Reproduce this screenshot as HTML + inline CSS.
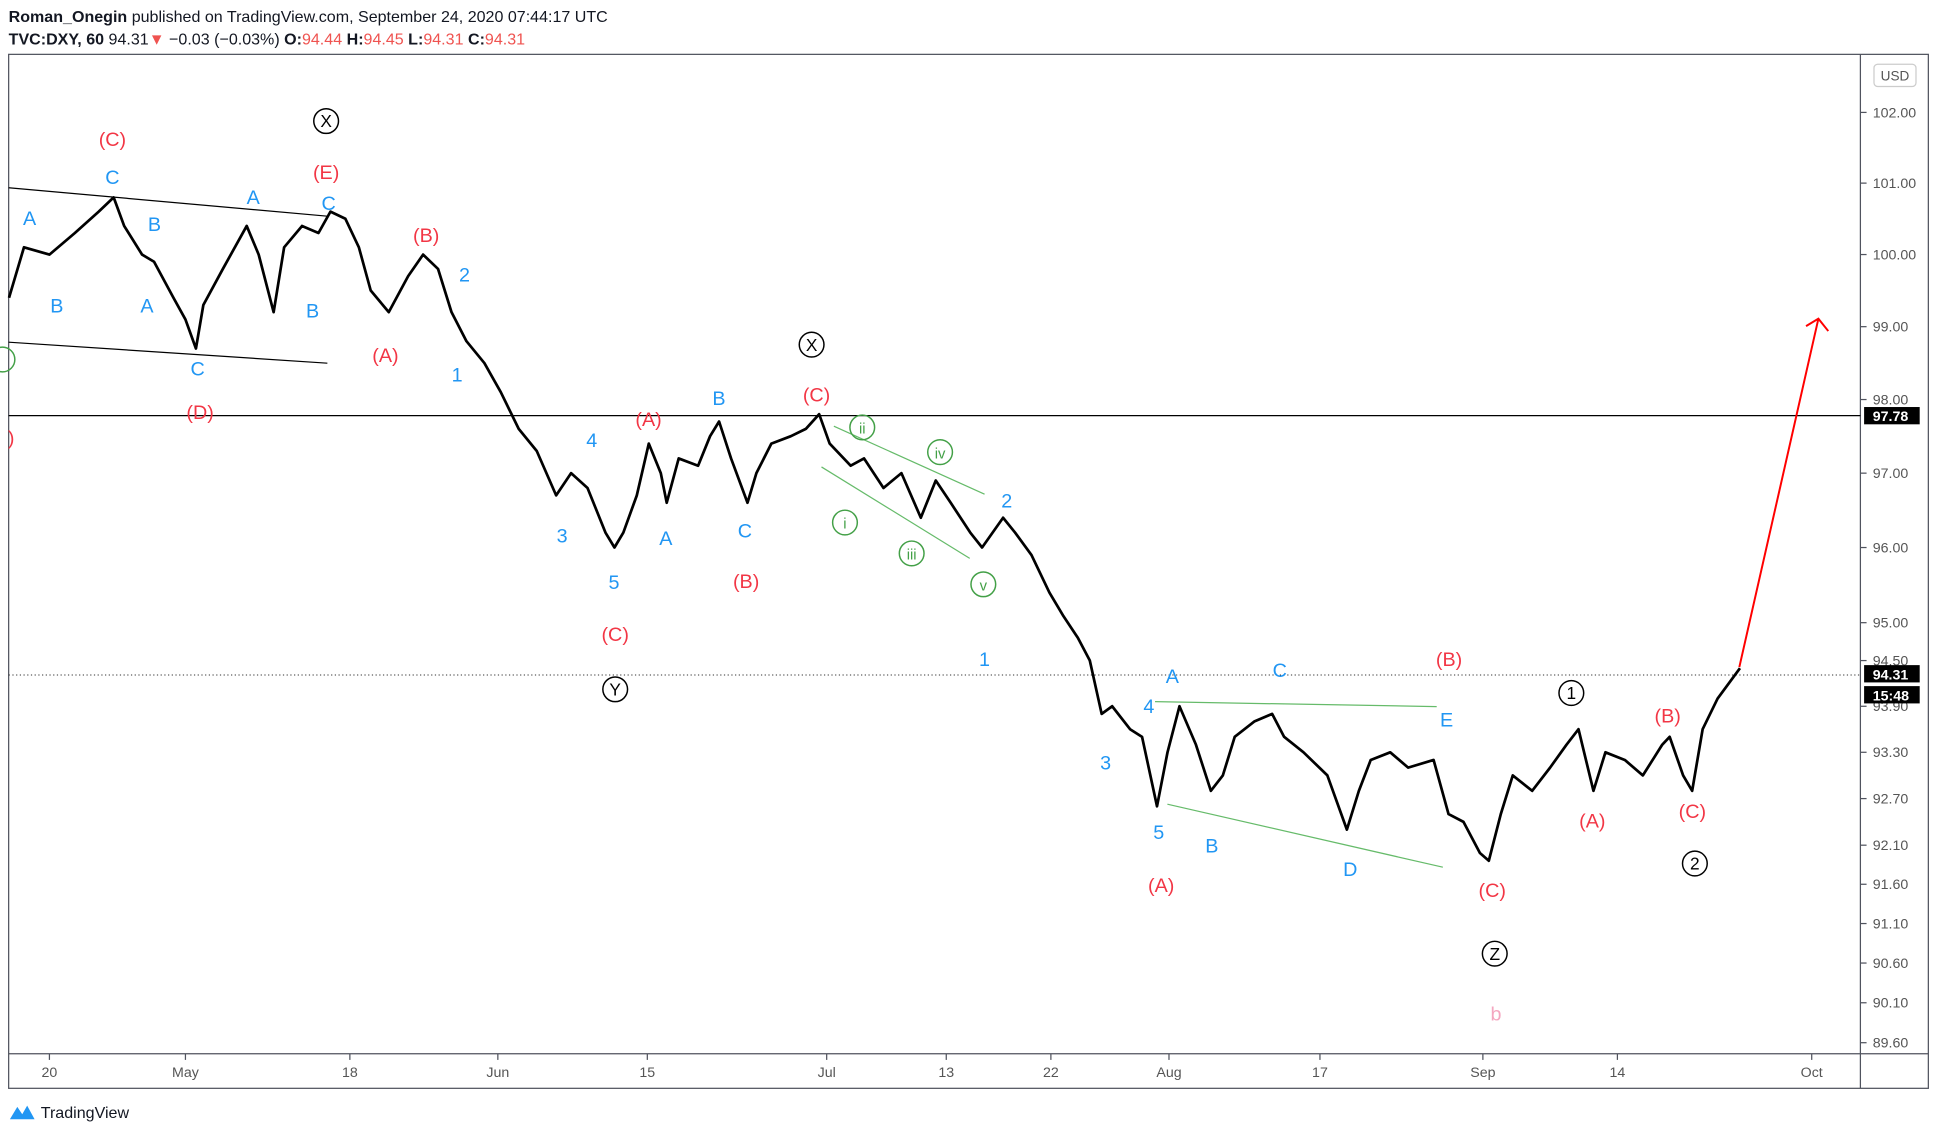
<!DOCTYPE html>
<html><head><meta charset="utf-8"><style>
html,body{margin:0;padding:0;background:#fff;}
svg{display:block;font-family:"Liberation Sans",sans-serif;}
</style></head><body>
<svg id="chart" width="1937" height="1136" viewBox="0 0 1568 919.6" xmlns="http://www.w3.org/2000/svg">
<text x="7" y="18" font-size="13" fill="#131722"><tspan font-weight="bold">Roman_Onegin</tspan> published on TradingView.com, September 24, 2020 07:44:17 UTC</text>
<text x="7" y="36" font-size="13" fill="#131722"><tspan font-weight="bold">TVC:DXY, 60</tspan> 94.31<tspan fill="#ef5350">▼</tspan> −0.03 (−0.03%) <tspan font-weight="bold">O:</tspan><tspan fill="#ef5350">94.44</tspan> <tspan font-weight="bold">H:</tspan><tspan fill="#ef5350">94.45</tspan> <tspan font-weight="bold">L:</tspan><tspan fill="#ef5350">94.31</tspan> <tspan font-weight="bold">C:</tspan><tspan fill="#ef5350">94.31</tspan></text>
<rect x="7" y="44" width="1554" height="837" fill="none" stroke="#50535e" stroke-width="1"/>
<line x1="1506" y1="44" x2="1506" y2="881" stroke="#50535e"/>
<line x1="7" y1="853" x2="1561" y2="853" stroke="#50535e"/>
<g id="plot"></g>
<g id="axes"></g>
<g id="ann"></g>
<g>
<path d="M8 906 L14 896 L18 902 L22 895 L28 906 Z" fill="#2196f3"/>
<text x="33" y="905" font-size="13" fill="#131722">TradingView</text>
</g>
</svg>
<script>
const days=[-2.7,-1.7,0,1.7,3.3,4.3,5.0,6.2,7.0,8.3,9.1,9.8,10.3,11.6,13.2,14.0,15.0,15.7,16.9,18.0,18.8,19.8,20.7,21.5,22.7,24.0,25.0,26.0,26.9,27.9,29.1,30.2,31.4,32.6,33.9,34.9,36.0,37.2,37.8,38.4,39.3,40.1,40.9,41.3,42.1,43.4,44.2,44.8,45.6,46.7,47.3,48.3,49.6,50.6,51.5,52.2,53.6,54.5,55.8,57.0,58.3,59.3,60.3,61.6,62.4,63.8,64.6,65.7,66.9,67.8,68.8,69.6,70.4,71.1,72.3,73.1,74.1,74.8,75.6,76.7,77.7,78.5,79.3,80.6,81.8,82.6,83.9,85.5,86.8,87.6,88.4,89.7,90.9,92.6,93.6,94.6,95.7,96.3,97.1,97.9,99.2,100.4,101.5,102.3,103.3,104.1,105.4,106.6,107.9,108.4,109.3,109.9,110.6,111.6,113.1];
const prices=[99.4,100.1,100.0,100.3,100.6,100.8,100.4,100.0,99.9,99.4,99.1,98.7,99.3,99.8,100.4,100.0,99.2,100.1,100.4,100.3,100.6,100.5,100.1,99.5,99.2,99.7,100.0,99.8,99.2,98.8,98.5,98.1,97.6,97.3,96.7,97.0,96.8,96.2,96.0,96.2,96.7,97.4,97.0,96.6,97.2,97.1,97.5,97.7,97.2,96.6,97.0,97.4,97.5,97.6,97.8,97.4,97.1,97.2,96.8,97.0,96.4,96.9,96.6,96.2,96.0,96.4,96.2,95.9,95.4,95.1,94.8,94.5,93.8,93.9,93.6,93.5,92.6,93.3,93.9,93.4,92.8,93.0,93.5,93.7,93.8,93.5,93.3,93.0,92.3,92.8,93.2,93.3,93.1,93.2,92.5,92.4,92.0,91.9,92.5,93.0,92.8,93.1,93.4,93.6,92.8,93.3,93.2,93.0,93.4,93.5,93.0,92.8,93.6,94.0,94.4];
const priceTicks=[102,101,100,99,98,97,96,95,94.5,93.9,93.3,92.7,92.1,91.6,91.1,90.6,90.1,89.6];
const timeLabels=["20","May","18","Jun","15","Jul","13","22","Aug","17","Sep","14","Oct"];
const timeDays=[0,9.1,20.1,30,40,52,60,67,74.9,85,95.9,104.9,117.9];
const lastPrice=94.31, levelPrice=97.78;
const NS="http://www.w3.org/2000/svg";
function xS(d){return 40+12.1*d;}
function yS(p){return 91+(Math.log(102)-Math.log(p))*5810;}
function mk(tag,attrs,parent,txt){const e=document.createElementNS(NS,tag);for(const k in attrs)e.setAttribute(k,attrs[k]);if(txt!==undefined)e.textContent=txt;parent.appendChild(e);return e;}
const plot=document.getElementById('plot'),axes=document.getElementById('axes'),ann=document.getElementById('ann');
// horizontal lines
let hl=mk('line',{x1:7,x2:1506,y1:yS(levelPrice),y2:yS(levelPrice),stroke:'#000','stroke-width':1},plot);


let dl=mk('line',{x1:7,x2:1506,y1:yS(lastPrice),y2:yS(lastPrice),stroke:'#333','stroke-width':0.8,'stroke-dasharray':'1,2'},plot);


// price line
let pts=days.map((d,i)=>xS(d).toFixed(1)+','+yS(prices[i]).toFixed(1)).join(' ');
let pl=mk('polyline',{points:pts,fill:'none',stroke:'#000','stroke-width':2.2,'stroke-linejoin':'round'},plot);


// trend lines
const tl=[[7,152,265,175,'#000','channel-top'],[7,277,265,294,'#000','channel-bottom'],[675,345,797,400,'#66bb6a','wedge-top'],[665,378,785,452,'#66bb6a','wedge-bottom'],[935,568,1163,572,'#66bb6a','triangle-top'],[945,651,1168,702,'#66bb6a','triangle-bottom']];
tl.forEach(t=>{let l=mk('line',{x1:t[0],y1:t[1],x2:t[2],y2:t[3],stroke:t[4],'stroke-width':1},plot);

});
let ar=mk('path',{d:'M1408 540 L1472 258 M1462 264 L1472 258 L1480 268',fill:'none',stroke:'#f00','stroke-width':1.6},plot);


// axes
priceTicks.forEach(p=>{const y=yS(p);mk('line',{x1:1506,x2:1511,y1:y,y2:y,stroke:'#50535e'},axes);
let t=mk('text',{x:1516,y:y+4,'font-size':11.5,fill:'#555'},axes,p.toFixed(2));

});
timeLabels.forEach((s,i)=>{const x=xS(timeDays[i]);mk('line',{x1:x,x2:x,y1:853,y2:858,stroke:'#50535e'},axes);
let t=mk('text',{x:x,y:872,'font-size':11.5,fill:'#555','text-anchor':'middle'},axes,s);

});
let ub=mk('rect',{x:1517,y:52,width:34,height:18,rx:3,fill:'#fff',stroke:'#ccc'},axes);


mk('text',{x:1534,y:65,'font-size':11,fill:'#555','text-anchor':'middle'},axes,'USD');
[[levelPrice.toFixed(2),yS(levelPrice),'level-price-tag'],[lastPrice.toFixed(2),yS(lastPrice)-1,'last-price-tag'],['15:48',yS(lastPrice)+16,'countdown-tag']].forEach(b=>{
let g=mk('g',{},axes);


mk('rect',{x:1509,y:b[1]-7,width:45,height:14,fill:'#000'},g);
mk('text',{x:1516,y:b[1]+4.5,'font-size':11.5,'font-weight':'bold',fill:'#fff'},g,b[0]);});
// annotations
const R='#f23645',B='#2196f3',G='#43a047',K='#000';
const labels=[
['(C)',91,112,R],['(E)',264,139,R],['(B)',345,190,R],['(A)',312,287,R],['(D)',162,333,R],[')',9,354,R],['(A)',525,339,R],['(C)',661,319,R],['(B)',604,470,R],['(C)',498,513,R],['(B)',1173,533,R],['(A)',940,716,R],['(C)',1208,720,R],['(A)',1289,664,R],['(B)',1350,579,R],['(C)',1370,656,R],
['C',91,143,B],['A',24,176,B],['B',125,181,B],['A',205,159,B],['C',266,164,B],['B',46,247,B],['A',119,247,B],['B',253,251,B],['C',160,298,B],['2',376,222,B],['1',370,303,B],['4',479,356,B],['3',455,433,B],['A',539,435,B],['5',497,471,B],['B',582,322,B],['C',603,429,B],['2',815,405,B],['1',797,533,B],['A',949,547,B],['C',1036,542,B],['4',930,571,B],['E',1171,582,B],['3',895,617,B],['5',938,673,B],['B',981,684,B],['D',1093,703,B],
['b',1211,820,'#f4a7c0']];
labels.forEach(l=>{let t=mk('text',{x:l[1],y:l[2]+6,'font-size':16,fill:l[3],'text-anchor':'middle'},ann,l[0]);

});
const circ=[['ii',698,346,G],['iv',761,366,G],['i',684,423,G],['iii',738,448,G],['v',796,473,G],['',2,291,G],
['X',264,98,K],['X',657,279,K],['Y',498,558,K],['Z',1210,772,K],['1',1272,561,K],['2',1372,699,K]];
circ.forEach(c=>{let g=mk('g',{},ann);


mk('circle',{cx:c[1],cy:c[2],r:10,fill:'none',stroke:c[3],'stroke-width':1.2},g);
mk('text',{x:c[1],y:c[2]+5,'font-size':c[3]===G?12:14,fill:c[3],'text-anchor':'middle'},g,c[0]);});
</script>
</body></html>
